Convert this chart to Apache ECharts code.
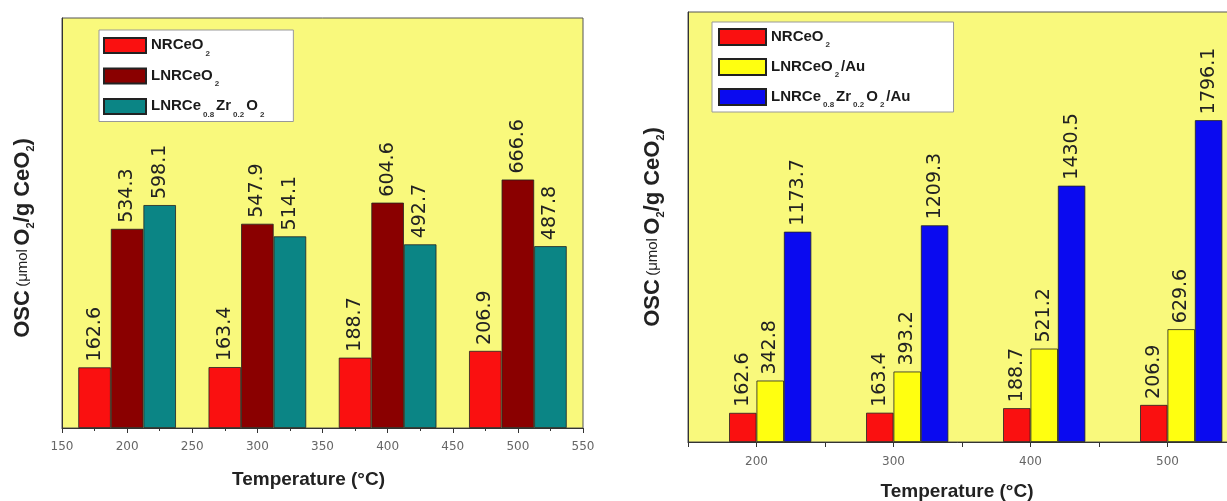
<!DOCTYPE html>
<html>
<head>
<meta charset="utf-8">
<script src="https://cdn.jsdelivr.net/npm/echarts@6/dist/echarts.min.js"></script>
<style>
html,body{margin:0;padding:0;background:#fff;}
#c{width:1227px;height:501px;}
</style>
</head>
<body>
<div id="c"></div>
<script>
// ---- data ----
const temps = [200, 300, 400, 500];
const leftXTicks = [150, 200, 250, 300, 350, 400, 450, 500, 550];
const rightXTicks = [200, 300, 400, 500];
const nrCeO2 = [162.6, 163.4, 188.7, 206.9];
const lnrCeO2 = [534.3, 547.9, 604.6, 666.6];
const lnrCeZrO2 = [598.1, 514.1, 492.7, 487.8];
const lnrCeO2Au = [342.8, 393.2, 521.2, 629.6];
const lnrCeZrO2Au = [1173.7, 1209.3, 1430.5, 1796.1];
const leftNames = ['NRCeO2', 'LNRCeO2', 'LNRCe0.8Zr0.2O2'];
const rightNames = ['NRCeO2', 'LNRCeO2/Au', 'LNRCe0.8Zr0.2O2/Au'];

// ---- rich text helpers ----
const legendLabels = {
  'NRCeO2': '{n|NRCeO}{s|2}',
  'LNRCeO2': '{n|LNRCeO}{s|2}',
  'LNRCe0.8Zr0.2O2': '{n|LNRCe}{s|0.8}{n|Zr}{s|0.2}{n|O}{s|2}',
  'LNRCeO2/Au': '{n|LNRCeO}{s|2}{n|/Au}',
  'LNRCe0.8Zr0.2O2/Au': '{n|LNRCe}{s|0.8}{n|Zr}{s|0.2}{n|O}{s|2}{n|/Au}'
};
function legendRich(fs) {
  return {
    n: {fontSize: fs, fontWeight: 'bold', fontFamily: 'Liberation Sans', color: '#1a1a1a', lineHeight: fs + 1, verticalAlign: 'top'},
    s: {fontSize: 8, fontWeight: 'bold', fontFamily: 'Liberation Sans', color: '#333', lineHeight: 6, padding: [fs - 3, 2, 0, 2], verticalAlign: 'top'}
  };
}
const yTitle = '{b|OSC} {m|(\u03bcmol} {b|O}{s|2}{b|/g CeO}{s|2}{b|)}';
const yTitleRich = {
  b: {fontSize: 22, fontWeight: 'bold', fontFamily: 'Liberation Sans', color: '#222', lineHeight: 24, verticalAlign: 'top'},
  m: {fontSize: 15, fontWeight: 'normal', fontFamily: 'Liberation Sans', color: '#222', lineHeight: 24, padding: [3, 0, 0, 0], verticalAlign: 'top'},
  s: {fontSize: 11, fontWeight: 'bold', fontFamily: 'Liberation Sans', color: '#222', lineHeight: 11, padding: [13, 0, 0, 0], verticalAlign: 'top'}
};

const plotBg = '#f9f97c';
const chart = echarts.init(document.getElementById('c'), null, {renderer: 'canvas'});

function xAxis(gridIndex, ticks, nameGap, namePad, margin) {
  return {
    type: 'value', gridIndex: gridIndex, min: 150, max: 550, interval: 50,
    name: 'Temperature (\u00b0C)', nameLocation: 'middle', nameGap: nameGap,
    nameTextStyle: {fontFamily: 'Liberation Sans', fontWeight: 'bold', fontSize: 19, color: '#222', padding: namePad},
    axisLine: {show: true, onZero: false, lineStyle: {color: '#333', width: 1}},
    axisTick: {show: true, inside: false, length: 5, lineStyle: {color: '#333'}},
    minorTick: {show: gridIndex === 0, splitNumber: 2, length: 3, lineStyle: {color: '#333'}},
    splitLine: {show: false},
    axisLabel: {
      show: true, margin: margin, color: '#666', fontSize: 12, fontFamily: 'DejaVu Sans',
      formatter: v => ticks.indexOf(v) >= 0 ? String(v) : ''
    }
  };
}
function yAxis(gridIndex, max, nameGap, namePad) {
  return {
    type: 'value', gridIndex: gridIndex, min: 0, max: max,
    name: yTitle, nameLocation: 'middle', nameGap: nameGap,
    nameTextStyle: {rich: yTitleRich, padding: namePad},
    axisLine: {show: true, lineStyle: {color: '#333', width: 1}},
    axisTick: {show: false}, axisLabel: {show: false}, splitLine: {show: false}
  };
}
function barSeries(name, vals, idx, offset, color, width) {
  return {
    type: 'bar', name: name, xAxisIndex: idx, yAxisIndex: idx,
    data: temps.map((t, i) => [t + offset, vals[i]]),
    barWidth: width, barGap: '-100%',
    itemStyle: {color: color, borderColor: '#222', borderWidth: 0.8},
    label: {
      show: true, position: 'top', rotate: 90, align: 'left', verticalAlign: 'middle', distance: 6,
      fontFamily: 'DejaVu Sans', fontSize: 19, color: '#222',
      formatter: p => p.value[1].toFixed(1)
    },
    emphasis: {disabled: true}
  };
}
function legend(left, top, names, iw, ih, gap, fs, pad) {
  return {
    left: left, top: top, orient: 'vertical', data: names, icon: 'rect',
    itemWidth: iw, itemHeight: ih, itemGap: gap, padding: pad,
    backgroundColor: '#ffffff', borderColor: '#999', borderWidth: 1, borderRadius: 0,
    selectedMode: false,
    textStyle: {rich: legendRich(fs)},
    formatter: n => legendLabels[n] || n
  };
}

chart.setOption({
  animation: false,
  backgroundColor: '#ffffff',
  grid: [
    {left: 62, top: 18, width: 521, height: 410, show: true, backgroundColor: plotBg, borderColor: '#555', borderWidth: 1, containLabel: false, outerBoundsMode: 'none'},
    {left: 688, top: 12, width: 548, height: 430, show: true, backgroundColor: plotBg, borderColor: '#555', borderWidth: 1, containLabel: false, outerBoundsMode: 'none'}
  ],
  xAxis: [xAxis(0, leftXTicks, 42, [0, 28, 0, 0], 13), xAxis(1, rightXTicks, 40, [0, 10, 0, 0], 14)],
  yAxis: [yAxis(0, 1100, 26, [0, 30, 0, 0]), yAxis(1, 2400, 22, [0, 0, 0, 0])],
  legend: [
    legend(99, 30, leftNames, 42, 15, 10, 15, [7, 27, 3, 4]),
    legend(712, 22, rightNames, 47, 16, 9, 15, [6, 43, 3, 6])
  ],
  series: [
    barSeries('NRCeO2', nrCeO2, 0, -25, '#fa1010', 32.5),
    barSeries('LNRCeO2', lnrCeO2, 0, 0, '#8a0000', 32.5),
    barSeries('LNRCe0.8Zr0.2O2', lnrCeZrO2, 0, 25, '#0b8585', 32.5),
    barSeries('NRCeO2', nrCeO2, 1, -10, '#fa1010', 27.4),
    barSeries('LNRCeO2/Au', lnrCeO2Au, 1, 10, '#ffff10', 27.4),
    barSeries('LNRCe0.8Zr0.2O2/Au', lnrCeZrO2Au, 1, 30, '#0a0af0', 27.4)
  ]
});
</script>
</body>
</html>
